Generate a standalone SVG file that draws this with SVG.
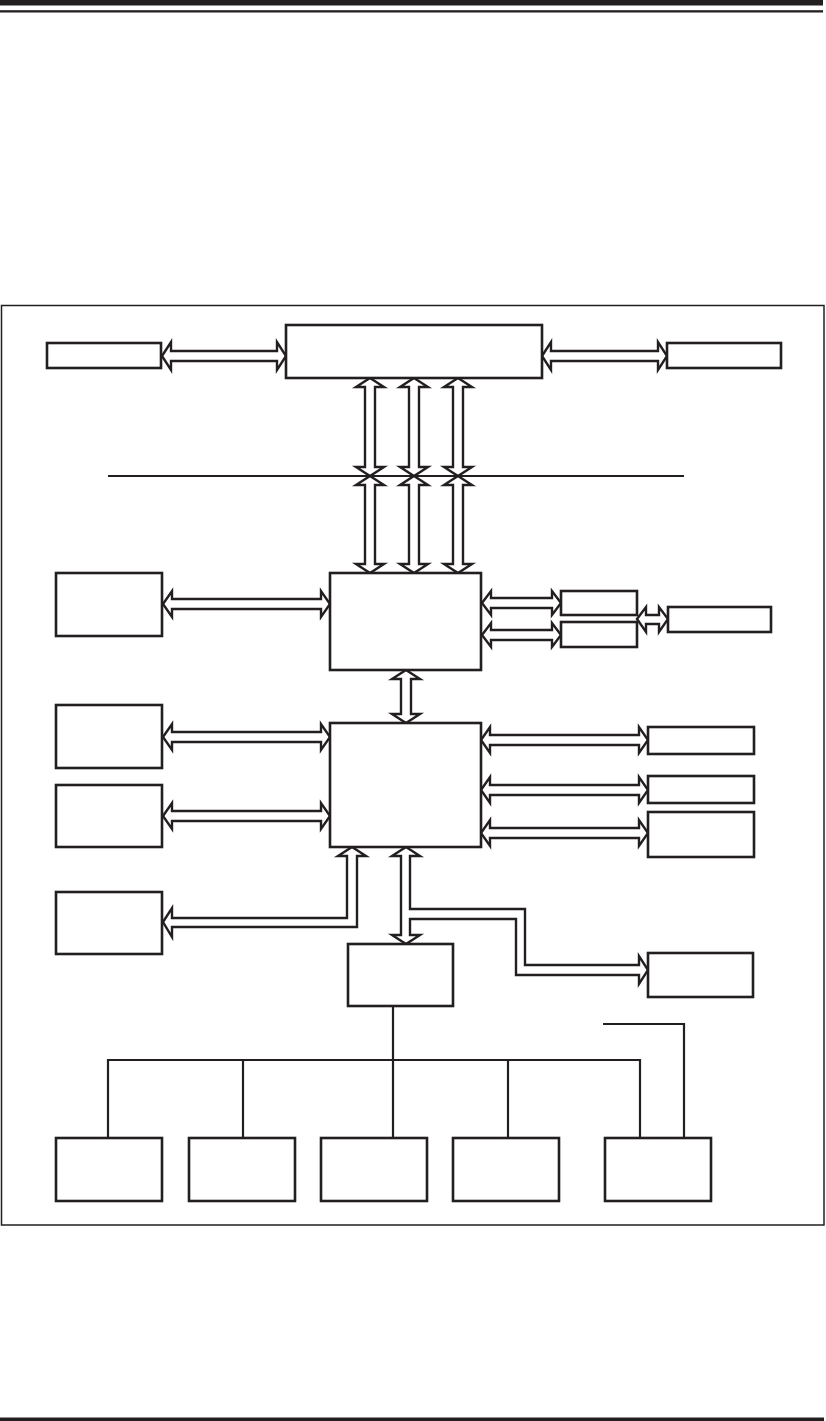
<svg xmlns="http://www.w3.org/2000/svg" width="826" height="1421" viewBox="0 0 826 1421">
<style>
.box{fill:#fff;stroke:#231f20;stroke-width:2.6}
.arr{fill:#fff;stroke:#231f20;stroke-width:2.4;stroke-linejoin:miter}
.ln{fill:none;stroke:#231f20;stroke-width:2.2}
</style>
<rect width="826" height="1421" fill="#fff"/>
<g id="page-rules">
<rect x="0" y="0" width="823" height="5.5" fill="#231f20"/>
<rect x="0" y="10.2" width="823" height="2.3" fill="#231f20"/>
<rect x="0" y="1417.5" width="824" height="3.5" fill="#231f20"/>
</g>
<rect id="frame" x="1.5" y="305.5" width="822.5" height="919.5" fill="none" stroke="#231f20" stroke-width="1.5"/>
<g id="connectors">
<line class="ln" x1="108" y1="476" x2="684" y2="476" stroke-width="1.8"/>
<!-- top horizontal arrows -->
<polygon class="arr" points="162,356 171,342 171,351 277,351 277,342 286,356 277,370 277,361 171,361 171,370"/>
<polygon class="arr" points="542,356 551,342 551,351 658,351 658,342 667,356 658,370 658,361 551,361 551,370"/>
<!-- vertical arrows CPU to bus -->
<polygon class="arr" points="370,378 384,387 375,387 375,467 384,467 370,476 356,467 365,467 365,387 356,387"/>
<polygon class="arr" points="414,378 428,387 419,387 419,467 428,467 414,476 400,467 409,467 409,387 400,387"/>
<polygon class="arr" points="458,378 472,387 463,387 463,467 472,467 458,476 444,467 453,467 453,387 444,387"/>
<polygon class="arr" points="370,476 384,485 375,485 375,564 384,564 370,573 356,564 365,564 365,485 356,485"/>
<polygon class="arr" points="414,476 428,485 419,485 419,564 428,564 414,573 400,564 409,564 409,485 400,485"/>
<polygon class="arr" points="458,476 472,485 463,485 463,564 472,564 458,573 444,564 453,564 453,485 444,485"/>
<!-- NB left -->
<polygon class="arr" points="163,604 172,591 172,599 321,599 321,591 330,604 321,617 321,609 172,609 172,617"/>
<!-- NB right -->
<polygon class="arr" points="482,603 491,591 491,598 552,598 552,591 561,603 552,615 552,608 491,608 491,615"/>
<polygon class="arr" points="482,635 491,623 491,630 552,630 552,623 561,635 552,647 552,640 491,640 491,647"/>
<polygon class="arr" points="637,619 646,607 646,615 659,615 659,607 668,619 659,632 659,624 646,624 646,632"/>
<!-- NB to SB -->
<polygon class="arr" points="406,670 420,679 411,679 411,714 420,714 406,723 392,714 401,714 401,679 392,679"/>
<!-- SB left -->
<polygon class="arr" points="163,737 172,724 172,732 321,732 321,724 330,737 321,750 321,742 172,742 172,750"/>
<polygon class="arr" points="163,816 172,803 172,811 321,811 321,803 330,816 321,829 321,821 172,821 172,829"/>
<!-- SB right -->
<polygon class="arr" points="481,740 490,727 490,735 639,735 639,727 648,740 639,753 639,745 490,745 490,753"/>
<polygon class="arr" points="481,790 490,777 490,785 639,785 639,777 648,790 639,803 639,795 490,795 490,803"/>
<polygon class="arr" points="481,833 490,820 490,828 639,828 639,820 648,833 639,846 639,838 490,838 490,846"/>
<!-- SB to left box 4 (L shaped) -->
<polygon class="arr" points="163,922 172,908 172,918 347,918 347,856 338,856 352,847 366,856 357,856 357,927 172,927 172,937"/>
<!-- SB down and branch to right -->
<polygon class="arr" points="406,847 420,856 410,856 410,909 525,909 525,965 639,965 639,956 648,970 639,984 639,975 516,975 516,919 410,919 410,935 420,935 406,944 392,935 401,935 401,856 392,856"/>
<!-- tree -->
<polyline class="ln" points="393,1007 393,1138"/>
<polyline class="ln" points="108,1138 108,1060 640,1060 640,1138"/>
<line class="ln" x1="243" y1="1060" x2="243" y2="1138"/>
<line class="ln" x1="508" y1="1060" x2="508" y2="1138"/>
<polyline class="ln" points="603,1024 684,1024 684,1138" stroke-width="2.6"/>
</g>
<g id="cpu"><rect class="box" x="286" y="325" width="256" height="53"/></g>
<g id="top-left"><rect class="box" x="47" y="343" width="114" height="25"/></g>
<g id="top-right"><rect class="box" x="667" y="343" width="114" height="25"/></g>
<g id="north-bridge"><rect class="box" x="330" y="573" width="151" height="97"/></g>
<g id="nb-left"><rect class="box" x="56" y="573" width="106" height="63"/></g>
<g id="nb-right-1"><rect class="box" x="561" y="591" width="76" height="24"/></g>
<g id="nb-right-2"><rect class="box" x="561" y="622" width="76" height="25"/></g>
<g id="nb-right-3"><rect class="box" x="668" y="607" width="103" height="25"/></g>
<g id="south-bridge"><rect class="box" x="330" y="723" width="151" height="124"/></g>
<g id="sb-left-1"><rect class="box" x="56" y="705" width="106" height="63"/></g>
<g id="sb-left-2"><rect class="box" x="56" y="785" width="106" height="62"/></g>
<g id="sb-left-3"><rect class="box" x="56" y="892" width="106" height="62"/></g>
<g id="sb-right-1"><rect class="box" x="648" y="727" width="106" height="27"/></g>
<g id="sb-right-2"><rect class="box" x="648" y="776" width="106" height="27"/></g>
<g id="sb-right-3"><rect class="box" x="648" y="812" width="106" height="45"/></g>
<g id="sb-right-4"><rect class="box" x="648" y="953" width="105" height="44"/></g>
<g id="lpc-hub"><rect class="box" x="348" y="944" width="105" height="62"/></g>
<g id="bottom-1"><rect class="box" x="56" y="1138" width="106" height="63"/></g>
<g id="bottom-2"><rect class="box" x="189" y="1138" width="106" height="63"/></g>
<g id="bottom-3"><rect class="box" x="321" y="1138" width="106" height="63"/></g>
<g id="bottom-4"><rect class="box" x="453" y="1138" width="106" height="63"/></g>
<g id="bottom-5"><rect class="box" x="605" y="1138" width="106" height="63"/></g>
</svg>
